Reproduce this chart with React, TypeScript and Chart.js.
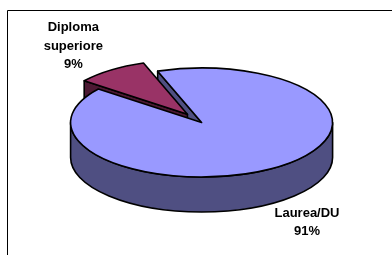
import React, { useEffect, useRef } from 'react';
import { Chart, registerables } from 'chart.js';

Chart.register(...registerables);

// ---- data ----
const CATEGORIES = ['Laurea/DU', 'Diploma superiore'];
const VALUES = [91, 9];
const TOP_COLORS = ['#9999FF', '#993366'];
const SIDE_COLORS = ['#4F4F82', '#4C1933'];

// ---- layout ----
const W = 392;
const H = 255;
const CX = 201.6;
const CY = 122.5;
const RX = 131;
const RY = 54.5;
const DEPTH = 35;
const EXPLODE = [0, 0.185];
const ROTATION = -19.6;
const LABEL_POS = [
  { x: 307, ys: [216.5, 235] },
  { x: 73.3, ys: [31, 49.5, 68] },
];
const FONT = 'bold 13px Arial, "Liberation Sans", sans-serif';

export default function App() {
  const ref = useRef<HTMLCanvasElement>(null);

  useEffect(() => {
    if (!ref.current) return;
    const TAU = Math.PI * 2;

    const pie3d = {
      id: 'pie3d',
      beforeDraw(chart: any) {
        const ctx = chart.ctx as CanvasRenderingContext2D;
        ctx.save();
        ctx.fillStyle = '#ffffff';
        ctx.fillRect(0, 0, W, H);
        ctx.strokeStyle = '#000';
        ctx.lineWidth = 1;
        ctx.beginPath();
        ctx.moveTo(7.5, H);
        ctx.lineTo(7.5, 10.5);
        ctx.lineTo(W, 10.5);
        ctx.stroke();
        ctx.restore();
      },
      beforeDatasetsDraw(chart: any) {
        const ctx = chart.ctx as CanvasRenderingContext2D;
        const arcs = chart.getDatasetMeta(0).data as any[];
        const geo = arcs.map((arc: any, i: number) => {
          const s = arc.startAngle;
          const e = arc.endAngle;
          const m = (s + e) / 2;
          const c = {
            x: CX + EXPLODE[i] * RX * Math.cos(m),
            y: CY + EXPLODE[i] * RY * Math.sin(m),
          };
          return { arc, s, e, c, i };
        });
        const rim = (g: any, t: number, d: number) => ({
          x: g.c.x + RX * Math.cos(t),
          y: g.c.y + RY * Math.sin(t) + d,
        });
        const strokeSetup = () => {
          ctx.strokeStyle = '#000';
          ctx.lineWidth = 1.6;
          ctx.lineJoin = 'round';
        };
        const drawFace = (g: any, t: number, isStart: boolean) => {
          const n = isStart ? t - Math.PI / 2 : t + Math.PI / 2;
          if (Math.sin(n) <= 0) return;
          const p2 = rim(g, t, 0);
          const p3 = rim(g, t, DEPTH);
          ctx.save();
          ctx.beginPath();
          ctx.moveTo(g.c.x, g.c.y);
          ctx.lineTo(p2.x, p2.y);
          ctx.lineTo(p3.x, p3.y);
          ctx.lineTo(g.c.x, g.c.y + DEPTH);
          ctx.closePath();
          ctx.fillStyle = SIDE_COLORS[g.i];
          ctx.fill();
          strokeSetup();
          ctx.stroke();
          ctx.restore();
        };
        const drawFaces = (g: any) => {
          drawFace(g, g.s, true);
          drawFace(g, g.e, false);
        };
        const drawWall = (g: any) => {
          for (let k = -1; k <= 1; k++) {
            const a = Math.max(g.s, TAU * k);
            const b = Math.min(g.e, TAU * k + Math.PI);
            if (b <= a) continue;
            ctx.save();
            ctx.beginPath();
            ctx.ellipse(g.c.x, g.c.y, RX, RY, 0, a, b, false);
            ctx.ellipse(g.c.x, g.c.y + DEPTH, RX, RY, 0, b, a, true);
            ctx.closePath();
            ctx.fillStyle = SIDE_COLORS[g.i];
            ctx.fill();
            strokeSetup();
            ctx.stroke();
            ctx.restore();
          }
        };
        const drawTop = (g: any) => {
          const arc = g.arc;
          const R = arc.outerRadius || 1;
          ctx.save();
          ctx.translate(g.c.x, g.c.y);
          ctx.scale(RX / R, RY / R);
          ctx.translate(-arc.x, -arc.y);
          arc.draw(ctx);
          ctx.restore();
          ctx.save();
          ctx.beginPath();
          ctx.moveTo(g.c.x, g.c.y);
          ctx.ellipse(g.c.x, g.c.y, RX, RY, 0, g.s, g.e, false);
          ctx.closePath();
          strokeSetup();
          ctx.stroke();
          ctx.restore();
        };

        const still = geo.filter((g: any) => !EXPLODE[g.i]);
        const exploded = geo.filter((g: any) => EXPLODE[g.i]);
        still.forEach(drawFaces);
        exploded.forEach((g: any) => {
          drawFaces(g);
          drawWall(g);
          drawTop(g);
        });
        still.forEach((g: any) => {
          drawWall(g);
          drawTop(g);
        });
        return false;
      },
      afterDraw(chart: any) {
        const ctx = chart.ctx as CanvasRenderingContext2D;
        const total = VALUES.reduce((a, b) => a + b, 0);
        ctx.save();
        ctx.font = FONT;
        ctx.fillStyle = '#000';
        ctx.textAlign = 'center';
        ctx.textBaseline = 'alphabetic';
        CATEGORIES.forEach((cat, i) => {
          const lines = cat.split(' ');
          lines.push(Math.round((VALUES[i] / total) * 100) + '%');
          const pos = LABEL_POS[i];
          lines.forEach((ln, j) => ctx.fillText(ln, pos.x, pos.ys[j]));
        });
        ctx.restore();
      },
    };

    const chart = new Chart(ref.current, {
      type: 'pie',
      data: {
        labels: CATEGORIES,
        datasets: [
          {
            data: VALUES,
            backgroundColor: TOP_COLORS,
            borderWidth: 0,
          },
        ],
      },
      options: {
        responsive: false,
        maintainAspectRatio: false,
        animation: false,
        events: [],
        rotation: ROTATION,
        plugins: {
          legend: { display: false },
          tooltip: { enabled: false },
        },
      },
      plugins: [pie3d],
    });
    return () => chart.destroy();
  }, []);

  return (
    <div style={{ position: 'fixed', left: 0, top: 0, width: W, height: H, background: '#fff' }}>
      <canvas ref={ref} width={W} height={H} style={{ display: 'block', width: W, height: H }} />
    </div>
  );
}
